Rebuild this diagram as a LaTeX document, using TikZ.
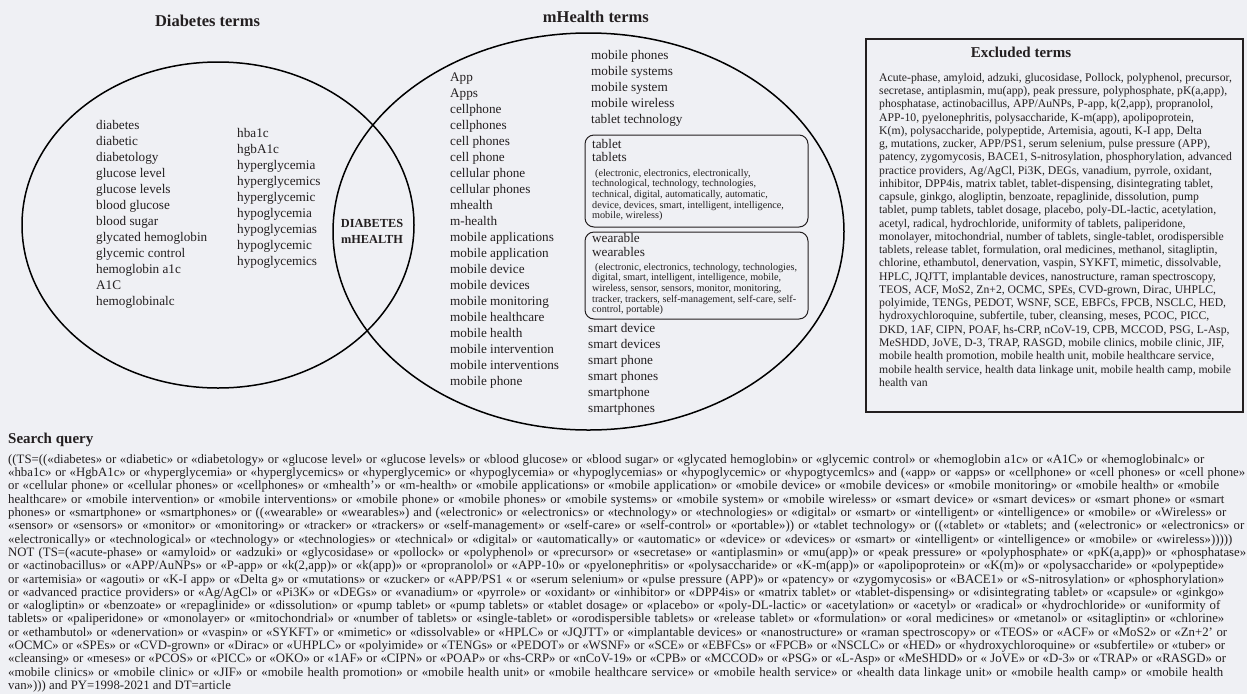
\documentclass[tikz,border=0pt]{standalone}
\usepackage{fontspec}
\setmainfont{Liberation Serif}
\usetikzlibrary{shapes.geometric}
\definecolor{bgc}{HTML}{EFF0F4}
\definecolor{ink}{HTML}{231F20}
\tikzset{
  term/.style={anchor=mid west, inner sep=0pt, text=ink, font=\fontsize{13.2}{15}\selectfont},
  smallt/.style={anchor=mid west, inner sep=0pt, text=ink, font=\fontsize{10.2}{11}\selectfont},
  qtext/.style={anchor=mid west, inner sep=0pt, text=ink, font=\fontsize{12.8}{13}\selectfont},
  xtext/.style={anchor=mid west, inner sep=0pt, text=ink, font=\fontsize{11.7}{13}\selectfont},
  ttl/.style={inner sep=0pt, text=ink, font=\fontsize{16.5}{18}\selectfont\bfseries},
  ttlb/.style={inner sep=0pt, text=ink, font=\fontsize{15}{17}\selectfont\bfseries},
  venn/.style={draw=black, line width=1.5pt, ellipse, inner sep=0pt},
  rbox/.style={draw=ink, line width=1pt, rounded corners=9pt, inner sep=0pt},
  xbox/.style={draw=ink, line width=1.5pt, inner sep=0pt},
}
\newcommand\qln[3]{\node[qtext] (q#1) at (8,{461+13.3*(#1-1)}) {\makebox[#2pt][s]{#3}};}
\newcommand\xln[2]{\node[xtext] (x#1) at (879,{79+13.26*(#1-1)}) {#2};}
\begin{document}
\begin{tikzpicture}[x=1pt,y=-1pt]
\path[use as bounding box, fill=bgc] (0,0) rectangle (1247,694);

% Venn circles
\node[venn, minimum width=392pt, minimum height=326pt] (dia) at (218,225) {};
\node[venn, minimum width=511pt, minimum height=397pt] (mh) at (588.5,231.5) {};

% titles
\node[ttl] (tdia) at (207.5,21) {Diabetes terms};
\node[ttl, anchor=east] (tmh) at (649,17) {mHealth terms};

% diabetes terms
\foreach \t [count=\i] in {diabetes, diabetic, diabetology, glucose level, glucose levels, blood glucose, blood sugar, glycated hemoglobin, glycemic control, hemoglobin a1c, A1C, hemoglobinalc}
  \node[term] (da\i) at (96,{127+16*(\i-1)}) {\t};
\foreach \t [count=\i] in {hba1c, hgbA1c, hyperglycemia, hyperglycemics, hyperglycemic, hypoglycemia, hypoglycemias, hypoglycemic, hypoglycemics}
  \node[term] (db\i) at (237,{135+16*(\i-1)}) {\t};

% intersection
\node[inner sep=0pt, text=ink, align=center, font=\fontsize{12.3}{16}\selectfont\bfseries] (inter) at (372,231) {DIABETES\\mHEALTH};

% mHealth terms
\foreach \t [count=\i] in {App, Apps, cellphone, cellphones, cell phones, cell phone, cellular phone, cellular phones, mhealth, m-health, mobile applications, mobile application, mobile device, mobile devices, mobile monitoring, mobile healthcare, mobile health, mobile intervention, mobile interventions, mobile phone}
  \node[term] (ma\i) at (450,{79.3+15.97*(\i-1)}) {\t};
\foreach \t [count=\i] in {mobile phones, mobile systems, mobile system, mobile wireless, tablet technology}
  \node[term] (mb\i) at (591,{57.3+16*(\i-1)}) {\t};
\foreach \t [count=\i] in {smart device, smart devices, smart phone, smart phones, smartphone, smartphones}
  \node[term] (mc\i) at (588,{330+16*(\i-1)}) {\t};

% tablet box
\node[rbox, minimum width=223pt, minimum height=92pt] (tabbox) at (696.5,181) {};
\node[term] (tb1) at (592,146) {tablet};
\node[term] (tb2) at (592,159) {tablets};
\node[smallt] (ts1) at (595,174) {(electronic, electronics, electronically,};
\node[smallt] (ts2) at (592,184.5) {technological, technology, technologies,};
\node[smallt] (ts3) at (592,195.5) {technical, digital, automatically, automatic,};
\node[smallt] (ts4) at (592,205.8) {device, devices, smart, intelligent, intelligence,};
\node[smallt] (ts5) at (592,216.5) {mobile, wireless)};

% wearable box
\node[rbox, minimum width=223pt, minimum height=87pt] (wearbox) at (696.5,275.5) {};
\node[term] (wb1) at (592,240) {wearable};
\node[term] (wb2) at (592,254) {wearables};
\node[smallt] (ws1) at (595,267.7) {(electronic, electronics, technology, technologies,};
\node[smallt] (ws2) at (592,278.3) {digital, smart, intelligent, intelligence, mobile,};
\node[smallt] (ws3) at (592,289) {wireless, sensor, sensors, monitor, monitoring,};
\node[smallt] (ws4) at (592,299.7) {tracker, trackers, self-management, self-care, self-};
\node[smallt] (ws5) at (592,310.5) {control, portable)};

% excluded terms
\node[xbox, minimum width=377pt, minimum height=373pt] (exbox) at (1054.5,225.5) {};
\node[ttlb] (tex) at (1021,52) {Excluded terms};
\xln{1}{Acute-phase, amyloid, adzuki, glucosidase, Pollock, polyphenol, precursor,}
\xln{2}{secretase, antiplasmin, mu(app), peak pressure, polyphosphate, pK(a,app),}
\xln{3}{phosphatase, actinobacillus, APP/AuNPs, P-app, k(2,app), propranolol,}
\xln{4}{APP-10, pyelonephritis, polysaccharide, K-m(app), apolipoprotein,}
\xln{5}{K(m), polysaccharide, polypeptide, Artemisia, agouti, K-I app, Delta}
\xln{6}{g, mutations, zucker, APP/PS1, serum selenium, pulse pressure (APP),}
\xln{7}{patency, zygomycosis, BACE1, S-nitrosylation, phosphorylation, advanced}
\xln{8}{practice providers, Ag/AgCl, Pi3K, DEGs, vanadium, pyrrole, oxidant,}
\xln{9}{inhibitor, DPP4is, matrix tablet, tablet-dispensing, disintegrating tablet,}
\xln{10}{capsule, ginkgo, alogliptin, benzoate, repaglinide, dissolution, pump}
\xln{11}{tablet, pump tablets, tablet dosage, placebo, poly-DL-lactic, acetylation,}
\xln{12}{acetyl, radical, hydrochloride, uniformity of tablets, paliperidone,}
\xln{13}{monolayer, mitochondrial, number of tablets, single-tablet, orodispersible}
\xln{14}{tablets, release tablet, formulation, oral medicines, methanol, sitagliptin,}
\xln{15}{chlorine, ethambutol, denervation, vaspin, SYKFT, mimetic, dissolvable,}
\xln{16}{HPLC, JQJTT, implantable devices, nanostructure, raman spectroscopy,}
\xln{17}{TEOS, ACF, MoS2, Zn+2, OCMC, SPEs, CVD-grown, Dirac, UHPLC,}
\xln{18}{polyimide, TENGs, PEDOT, WSNF, SCE, EBFCs, FPCB, NSCLC, HED,}
\xln{19}{hydroxychloroquine, subfertile, tuber, cleansing, meses, PCOC, PICC,}
\xln{20}{DKD, 1AF, CIPN, POAF, hs-CRP, nCoV-19, CPB, MCCOD, PSG, L-Asp,}
\xln{21}{MeSHDD, JoVE, D-3, TRAP, RASGD, mobile clinics, mobile clinic, JIF,}
\xln{22}{mobile health promotion, mobile health unit, mobile healthcare service,}
\xln{23}{mobile health service, health data linkage unit, mobile health camp, mobile}
\xln{24}{health van}

% search query
\node[ttlb, anchor=mid west] (tsq) at (8,441) {Search query};
\qln{1}{1196}{((TS=((«diabetes» or «diabetic» or «diabetology» or «glucose level» or «glucose levels» or «blood glucose» or «blood sugar» or «glycated hemoglobin» or «glycemic control» or «hemoglobin a1c» or «A1C» or «hemoglobinalc» or}
\qln{2}{1237}{«hba1c» or «HgbA1c» or «hyperglycemia» or «hyperglycemics» or «hyperglycemic» or «hypoglycemia» or «hypoglycemias» or «hypoglycemic» or «hypogtycemlcs» and («app» or «apps» or «cellphone» or «cell phones» or «cell phone»}
\qln{3}{1211}{or «cellular phone» or «cellular phones» or «cellphones» or «mhealth'» or «m-health» or «mobile applications» or «mobile application» or «mobile device» or «mobile devices» or «mobile monitoring» or «mobile health» or «mobile}
\qln{4}{1216}{healthcare» or «mobile intervention» or «mobile interventions» or «mobile phone» or «mobile phones» or «mobile systems» or «mobile system» or «mobile wireless» or «smart device» or «smart devices» or «smart phone» or «smart}
\qln{5}{1218}{phones» or «smartphone» or «smartphones» or ((«wearable» or «wearables») and («electronic» or «electronics» or «technology» or «technologies» or «digital» or «smart» or «intelligent» or «intelligence» or «mobile» or «Wireless» or}
\qln{6}{1236}{«sensor» or «sensors» or «monitor» or «monitoring» or «tracker» or «trackers» or «self-management» or «self-care» or «self-control» or «portable»)) or «tablet technology» or ((«tablet» or «tablets; and («electronic» or «electronics» or}
\qln{7}{1224}{«electronically» or «technological» or «technology» or «technologies» or «technical» or «digital» or «automatically» or «automatic» or «device» or «devices» or «smart» or «intelligent» or «intelligence» or «mobile» or «wireless»)))))}
\qln{8}{1238}{NOT (TS=(«acute-phase» or «amyloid» or «adzuki» or «glycosidase» or «pollock» or «polyphenol» or «precursor» or «secretase» or «antiplasmin» or «mu(app)» or «peak pressure» or «polyphosphate» or «pK(a,app)» or «phosphatase»}
\qln{9}{1216}{or «actinobacillus» or «APP/AuNPs» or «P-app» or «k(2,app)» or «k(app)» or «propranolol» or «APP-10» or «pyelonephritis» or «polysaccharide» or «K-m(app)» or «apolipoprotein» or «K(m)» or «polysaccharide» or «polypeptide»}
\qln{10}{1216}{or «artemisia» or «agouti» or «K-I app» or «Delta g» or «mutations» or «zucker» or «APP/PS1 « or «serum selenium» or «pulse pressure (APP)» or «patency» or «zygomycosis» or «BACE1» or «S-nitrosylation» or «phosphorylation»}
\qln{11}{1216}{or «advanced practice providers» or «Ag/AgCl» or «Pi3K» or «DEGs» or «vanadium» or «pyrrole» or «oxidant» or «inhibitor» or «DPP4is» or «matrix tablet» or «tablet-dispensing» or «disintegrating tablet» or «capsule» or «ginkgo»}
\qln{12}{1212}{or «alogliptin» or «benzoate» or «repaglinide» or «dissolution» or «pump tablet» or «pump tablets» or «tablet dosage» or «placebo» or «poly-DL-lactic» or «acetylation» or «acetyl» or «radical» or «hydrochloride» or «uniformity of}
\qln{13}{1216}{tablets» or «paliperidone» or «monolayer» or «mitochondrial» or «number of tablets» or «single-tablet» or «orodispersible tablets» or «release tablet» or «formulation» or «oral medicines» or «metanol» or «sitagliptin» or «chlorine»}
\qln{14}{1219}{or «ethambutol» or «denervation» or «vaspin» or «SYKFT» or «mimetic» or «dissolvable» or «HPLC» or «JQJTT» or «implantable devices» or «nanostructure» or «raman spectroscopy» or «TEOS» or «ACF» or «MoS2» or «Zn+2' or}
\qln{15}{1217}{«OCMC» or «SPEs» or «CVD-grown» or «Dirac» or «UHPLC» or «polyimide» or «TENGs» or «PEDOT» or «WSNF» or «SCE» or «EBFCs» or «FPCB» or «NSCLC» or «HED» or «hydroxychloroquine» or «subfertile» or «tuber» or}
\qln{16}{1218}{«cleansing» or «meses» or «PCOS» or «PICC» or «OKO» or «1AF» or «CIPN» or «POAP» or «hs-CRP» or «nCoV-19» or «CPB» or «MCCOD» or «PSG» or «L-Asp» or «MeSHDD» or « JoVE» or «D-3» or «TRAP» or «RASGD» or}
\qln{17}{1215}{«mobile clinics» or «mobile clinic» or «JIF» or «mobile health promotion» or «mobile health unit» or «mobile healthcare service» or «mobile health service» or «health data linkage unit» or «mobile health camp» or «mobile health}
\node[qtext] (q18) at (8,{461+13.3*17}) {van»))) and PY=1998-2021 and DT=article};
\end{tikzpicture}
\end{document}
